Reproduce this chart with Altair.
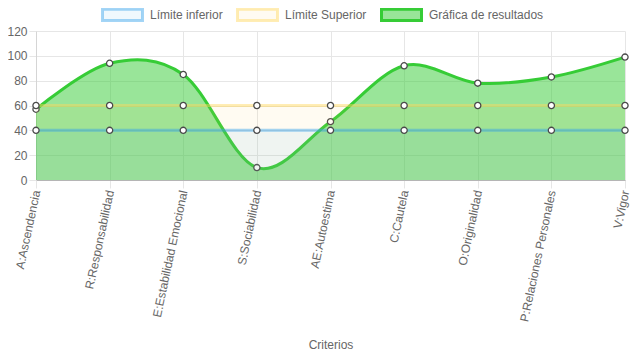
import altair as alt
import pandas as pd

categorias = ["A:Ascendencia", "R:Responsabilidad", "E:Estabilidad Emocional", "S:Sociabilidad",
              "AE:Autoestima", "C:Cautela", "O:Originalidad", "P:Relaciones Personales", "V:Vigor"]
limite_inferior = [40, 40, 40, 40, 40, 40, 40, 40, 40]
limite_superior = [60, 60, 60, 60, 60, 60, 60, 60, 60]
resultados = [57, 94, 85, 10, 47, 92, 78, 83, 99]

series = ["Límite inferior", "Límite Superior", "Gráfica de resultados"]
fill_colors = ["rgba(54,162,235,0.08)", "rgba(255,206,86,0.08)", "rgba(51,204,51,0.5)"]
line_colors = ["rgba(54,162,235,0.45)", "rgba(255,215,90,0.45)", "#36cc36"]

rows = []
for s, vals in zip(series, [limite_inferior, limite_superior, resultados]):
    for c, v in zip(categorias, vals):
        rows.append({"serie": s, "criterio": c, "valor": v})
df = pd.DataFrame(rows)

FONT = "Liberation Sans"
BOX = "M-1,-0.28H1V0.28H-1Z"

x_enc = alt.X("criterio:N", sort=categorias,
              scale=alt.Scale(type="point", padding=0),
              axis=alt.Axis(title="Criterios", labelAngle=282, labelAlign="right",
                            labelBaseline="middle", labelFontSize=12, labelColor="#666",
                            labelFont=FONT, tickSize=8, tickColor="#e6e6e6",
                            labelPadding=2, grid=True, gridColor="#e6e6e6",
                            domainColor="#b5b5b5", titleFont=FONT, titleFontSize=12,
                            titleColor="#666", titleFontWeight="normal",
                            titleY=168, titleBaseline="alphabetic"))
y_enc = alt.Y("valor:Q", scale=alt.Scale(domain=[0, 120], nice=False),
              axis=alt.Axis(title=None, values=[0, 20, 40, 60, 80, 100, 120],
                            labelFontSize=12, labelColor="#666", labelFont=FONT,
                            tickSize=7, tickColor="#e6e6e6", labelPadding=2,
                            grid=True, gridColor="#e6e6e6", domainColor="#d5d5d5"))

layers = []
# draw order: results first (bottom), then upper limit, then lower limit on top
for idx in [2, 1, 0]:
    s = series[idx]
    base = alt.Chart(df).transform_filter(alt.datum.serie == s)
    area = base.mark_area(interpolate="cardinal", color=fill_colors[idx]).encode(
        x=x_enc, y=y_enc)
    line = base.mark_line(interpolate="cardinal", color=line_colors[idx],
                          strokeWidth=3).encode(x=x_enc, y=y_enc)
    pts = base.mark_point(filled=True, fill="white", stroke="#4a4a4a", strokeWidth=1.3,
                          size=38, opacity=1).encode(x=x_enc, y=y_enc)
    layers += [area, line, pts]

leg = dict(title=None, orient="none", direction="horizontal",
           legendX=65, legendY=-38,
           symbolType=BOX, symbolSize=1600,
           symbolStrokeWidth=3, labelFontSize=12,
           labelColor="#666", labelFont=FONT,
           columnPadding=8, labelOffset=6)

legend_layer = alt.Chart(df).transform_filter("false").mark_point(
    filled=True, opacity=1, size=1600, shape=BOX).encode(
    fill=alt.Fill("serie:N", scale=alt.Scale(domain=series, range=fill_colors),
                  legend=alt.Legend(**leg)),
    stroke=alt.Stroke("serie:N", scale=alt.Scale(domain=series, range=line_colors),
                      legend=alt.Legend(**leg)),
)
layers.append(legend_layer)

chart = alt.layer(*layers).properties(
    width=589, height=149,
    autosize=alt.AutoSizeParams(type="none"),
    padding={"left": 28, "top": 23, "right": 6, "bottom": 172},
).configure_view(stroke=None)

chart.save("out.html", embed_options={"renderer": "svg", "actions": False})
